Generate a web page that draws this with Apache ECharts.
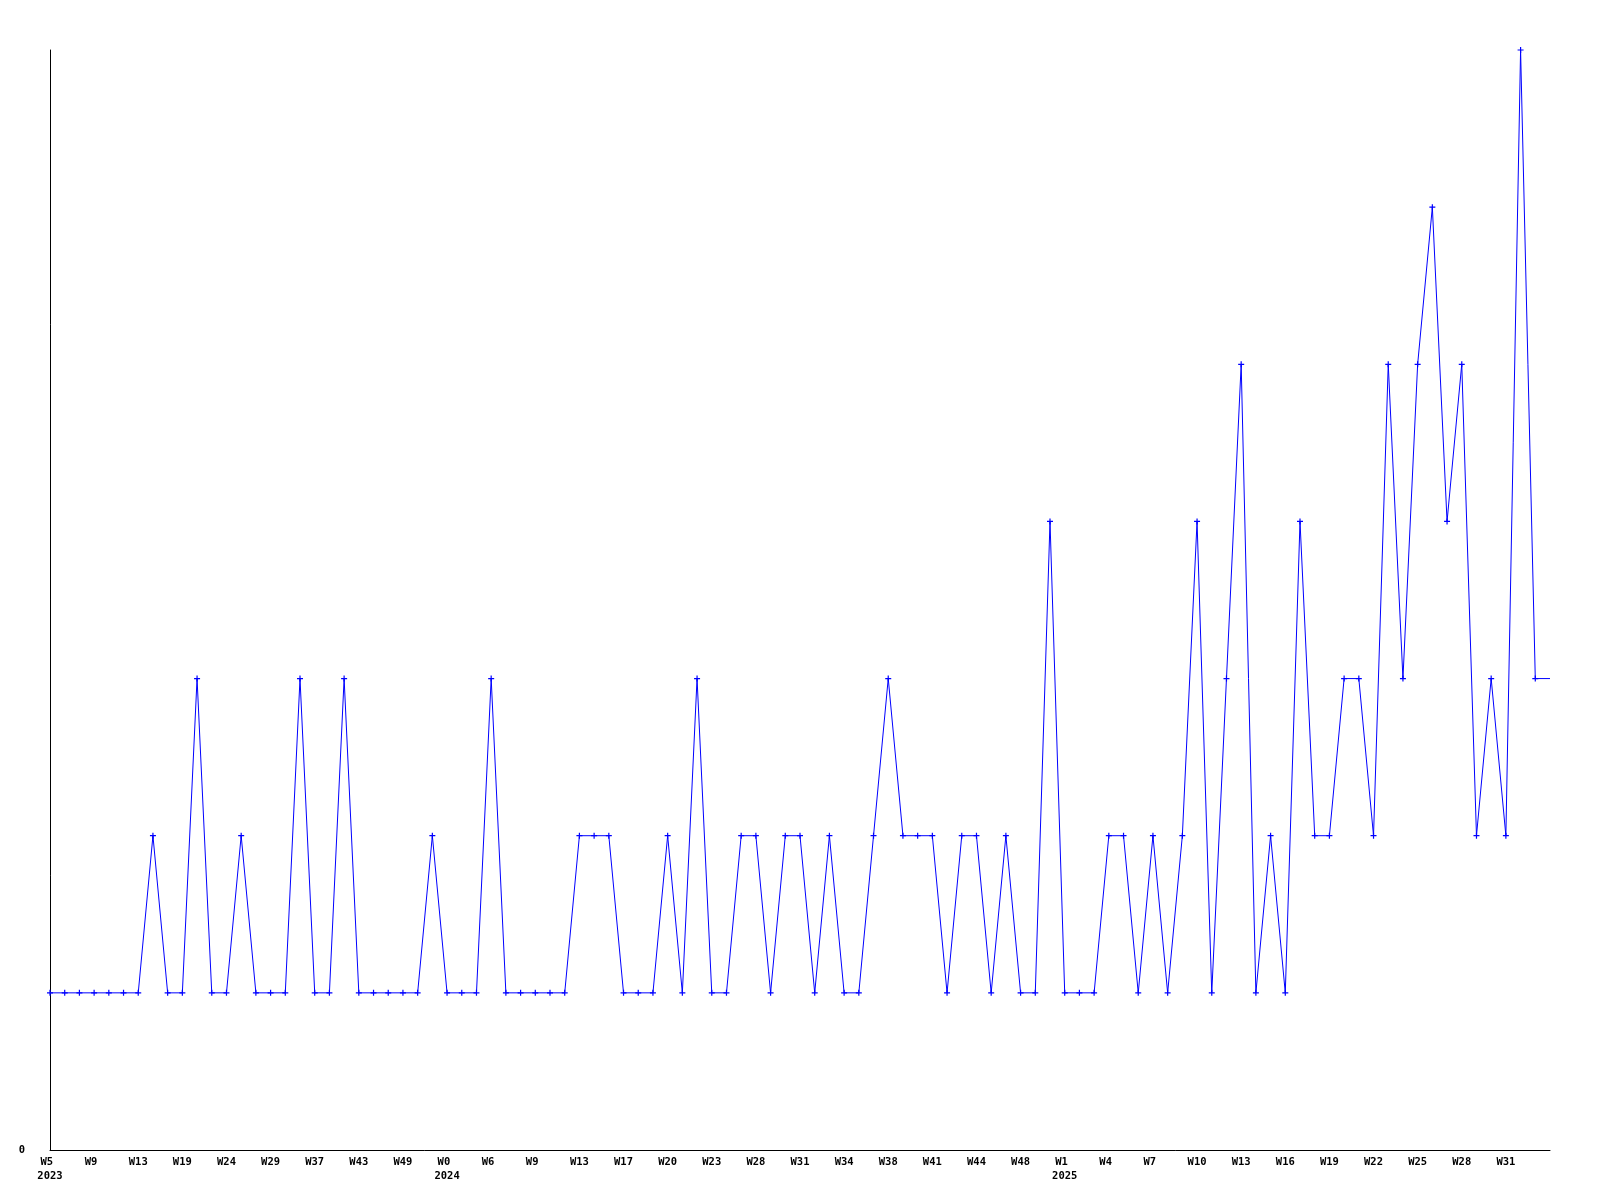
<!DOCTYPE html>
<html>
<head>
<meta charset="utf-8">
<script src="https://cdn.jsdelivr.net/npm/echarts@6/dist/echarts.min.js"></script>
<style>
html,body{margin:0;padding:0;background:#fff;}
#chart{width:1600px;height:1200px;}
</style>
</head>
<body>
<div id="chart"></div>
<script>
// Week labels for each data point (every third one is shown on the axis)
const weeks2023 = ["W5","W6","W7","W9","W10","W11","W13","W15","W17","W19","W20","W22","W24","W26","W27","W29","W31","W34","W37","W39","W41","W43","W45","W47","W49","W50","W51"];
const weeks2024 = ["W0","W2","W4","W6","W7","W8","W9","W10","W12","W13","W14","W15","W17","W18","W19","W20","W21","W22","W23","W25","W26","W28","W29","W30","W31","W32","W33","W34","W36","W37","W38","W39","W40","W41","W42","W43","W44","W46","W47","W48","W50","W51"];
const weeks2025 = ["W1","W2","W3","W4","W5","W6","W7","W8","W9","W10","W11","W12","W13","W14","W15","W16","W17","W18","W19","W20","W21","W22","W23","W24","W25","W26","W27","W28","W29","W30","W31","W32","W33","W34"];
const years = ["2023","2024","2025"];

// Values per point
const values = [
  1,1,1,1,1,1,1,2,1,1,3,1,1,2,1,1,1,3,1,1,3,1,1,1,1,1,2,
  1,1,1,3,1,1,1,1,1,2,2,2,1,1,1,2,1,3,1,1,2,2,1,2,2,1,2,1,1,2,3,2,2,2,1,2,2,1,2,1,1,4,
  1,1,1,2,2,1,2,1,2,4,1,3,5,1,2,1,4,2,2,3,3,2,5,3,5,6,4,5,2,3,2,7,3,3
];

const weekGroups = [weeks2023, weeks2024, weeks2025];
const categories = [];
const displayLabels = [];
weekGroups.forEach((g, gi) => {
  g.forEach((w, wi) => {
    categories.push(years[gi] + '-' + w);
    const padded = w.length < 3 ? w + ' ' : w;
    displayLabels.push(wi === 0 ? padded + '\n' + years[gi] : padded);
  });
});

const lastIdx = values.length - 1;
const seriesData = values.map((v, i) => i === lastIdx ? {value: v, symbol: 'none'} : v);

const chart = echarts.init(document.getElementById('chart'), null, {renderer: 'canvas'});
const font = 'DejaVu Sans Mono';
chart.setOption({
  animation: false,
  backgroundColor: '#ffffff',
  grid: {left: 50, right: 50, top: 50, bottom: 50, containLabel: false},
  xAxis: {
    type: 'category',
    data: categories,
    boundaryGap: false,
    axisLine: {show: true, lineStyle: {color: '#000', width: 1}},
    axisTick: {show: false},
    splitLine: {show: false},
    axisLabel: {
      interval: 2,
      margin: 5,
      color: '#000',
      fontFamily: font,
      fontWeight: 'bold',
      fontSize: 10.5,
      lineHeight: 14,
      formatter: (val, idx) => (idx === lastIdx ? '' : displayLabels[idx])
    }
  },
  yAxis: {
    type: 'value',
    min: 0,
    max: 7,
    interval: 7,
    axisLine: {show: true, lineStyle: {color: '#000', width: 1}},
    axisTick: {show: false},
    splitLine: {show: false},
    axisLabel: {
      margin: 25,
      color: '#000',
      fontFamily: font,
      fontWeight: 'bold',
      fontSize: 10.5,
      formatter: v => (v === 0 ? '0' : '')
    }
  },
  series: [{
    type: 'line',
    data: seriesData,
    symbol: 'path://M2,0H3V2H5V3H3V5H2V3H0V2H2Z',
    symbolSize: 6,
    showAllSymbol: true,
    itemStyle: {color: '#0000ff'},
    lineStyle: {color: '#0000ff', width: 1},
    emphasis: {disabled: true}
  }]
});
</script>
</body>
</html>
